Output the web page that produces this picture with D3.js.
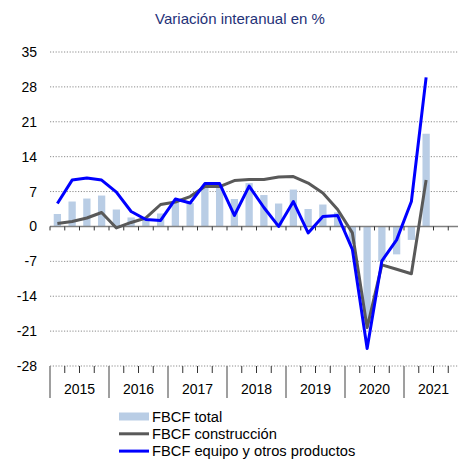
<!DOCTYPE html>
<html>
<head>
<meta charset="utf-8">
<script src="https://cdn.jsdelivr.net/npm/d3@7"></script>
<style>
  body { margin: 0; background: #fff; }
  text { font-family: Arial, "Liberation Sans", sans-serif; }
</style>
</head>
<body>
<div id="chart"></div>
<script>
var years = ["2015", "2016", "2017", "2018", "2019", "2020", "2021"];
var quarters = [];
years.forEach(function (y) { ["T1", "T2", "T3", "T4"].forEach(function (q) { quarters.push(y + q); }); });

// 2015T1 .. 2021T2
var fbcfTotal = [2.5, 5.0, 5.6, 6.2, 3.4, 1.8, 1.3, 2.6, 5.0, 4.7, 8.0, 8.0, 5.5,
                 8.7, 6.3, 4.6, 7.4, 3.5, 4.4, 2.8, -3.5, -19.5, -7.0, -5.6, -2.7, 18.6];
var fbcfConstruccion = [0.6, 1.0, 1.7, 2.8, -0.3, 0.8, 1.7, 4.4, 4.9, 6.0, 8.0, 8.0, 9.2,
                        9.4, 9.4, 9.9, 10.0, 8.7, 6.7, 3.4, -1.3, -20.3, -7.7, -8.6, -9.5, 9.3];
var fbcfEquipo = [4.6, 9.3, 9.7, 9.3, 6.9, 3.0, 1.4, 1.2, 5.5, 4.7, 8.6, 8.6, 2.2,
                  8.1, 3.8, 0.0, 5.0, -1.3, 2.0, 2.2, -4.6, -24.5, -6.9, -2.7, 5.0, 29.9];
var yTicks = [35, 28, 21, 14, 7, 0, -7, -14, -21, -28];

var W = 458, H = 460;
var left = 50, slot = 14.75;
var svg = d3.select("#chart").append("svg").attr("width", W).attr("height", H);

var x = d3.scaleBand().domain(quarters).range([left, left + slot * quarters.length]);
var y = d3.scaleLinear().domain([-28, 35]).range([366, 52]);

svg.append("text").attr("x", 240).attr("y", 24).attr("text-anchor", "middle")
   .attr("font-size", 15).attr("fill", "#1f3278").text("Variación interanual en %");

// grid
svg.selectAll(".grid").data(yTicks.filter(function (d) { return d !== 0; })).enter()
   .append("line")
   .attr("x1", left).attr("x2", W)
   .attr("y1", function (d) { return y(d); }).attr("y2", function (d) { return y(d); })
   .attr("stroke", "#8c8c8c").attr("stroke-width", 1).attr("stroke-dasharray", "1.2,1.6");

svg.selectAll(".ylab").data(yTicks).enter().append("text")
   .attr("x", 37).attr("y", function (d) { return y(d) + 5; })
   .attr("text-anchor", "end").attr("font-size", 14).attr("fill", "#000")
   .text(function (d) { return d; });

// bars
var bw = 7.3;
svg.selectAll(".bar").data(fbcfTotal).enter().append("rect")
   .attr("x", function (d, i) { return x(quarters[i]) + (slot - bw) / 2; })
   .attr("width", bw)
   .attr("y", function (d) { return y(Math.max(0, d)); })
   .attr("height", function (d) { return Math.abs(y(d) - y(0)); })
   .attr("fill", "#b9cde5");

// zero axis
svg.append("line").attr("x1", left).attr("x2", W).attr("y1", y(0)).attr("y2", y(0))
   .attr("stroke", "#7f7f7f").attr("stroke-width", 1.5);
svg.selectAll(".ztick").data(quarters).enter().append("line")
   .attr("x1", function (d) { return x(d); }).attr("x2", function (d) { return x(d); })
   .attr("y1", y(0)).attr("y2", y(0) + 4)
   .attr("stroke", "#333").attr("stroke-width", 1);

// lines
var line = d3.line()
  .x(function (d, i) { return x(quarters[i]) + slot / 2; })
  .y(function (d) { return y(d); });

svg.append("path").datum(fbcfConstruccion).attr("d", line)
   .attr("fill", "none").attr("stroke", "#595959").attr("stroke-width", 3)
   .attr("stroke-linejoin", "round");
svg.append("path").datum(fbcfEquipo).attr("d", line)
   .attr("fill", "none").attr("stroke", "#0000ff").attr("stroke-width", 3)
   .attr("stroke-linejoin", "round");

// bottom axis
var yb = y(-28);
svg.selectAll(".qtick").data(quarters.filter(function (d, i) { return i % 4 !== 0; })).enter()
   .append("line")
   .attr("x1", function (d) { return x(d); }).attr("x2", function (d) { return x(d); })
   .attr("y1", yb).attr("y2", yb + 7).attr("stroke", "#333").attr("stroke-width", 1);
svg.selectAll(".ysep").data(years).enter().append("line")
   .attr("x1", function (d) { return x(d + "T1"); }).attr("x2", function (d) { return x(d + "T1"); })
   .attr("y1", yb).attr("y2", yb + 32).attr("stroke", "#7f7f7f").attr("stroke-width", 1.5);
svg.selectAll(".yearlab").data(years).enter().append("text")
   .attr("x", function (d) { return x(d + "T1") + slot * 2; })
   .attr("y", yb + 28).attr("text-anchor", "middle").attr("font-size", 14)
   .text(function (d) { return d; });

// legend
var legend = [
  { name: "FBCF total", type: "bar", color: "#b9cde5" },
  { name: "FBCF construcción", type: "line", color: "#595959" },
  { name: "FBCF equipo y otros productos", type: "line", color: "#0000ff" }
];
var lg = svg.selectAll(".lg").data(legend).enter().append("g")
   .attr("transform", function (d, i) { return "translate(119," + (416.5 + i * 17.3) + ")"; });
lg.each(function (d) {
  var g = d3.select(this);
  if (d.type === "bar") {
    g.append("rect").attr("x", 0).attr("y", -4).attr("width", 30).attr("height", 8).attr("fill", d.color);
  } else {
    g.append("line").attr("x1", 0).attr("x2", 30).attr("y1", 0).attr("y2", 0)
     .attr("stroke", d.color).attr("stroke-width", 3);
  }
});
lg.append("text").attr("x", 33).attr("y", 5).attr("font-size", 14.7).text(function (d) { return d.name; });
</script>
</body>
</html>
